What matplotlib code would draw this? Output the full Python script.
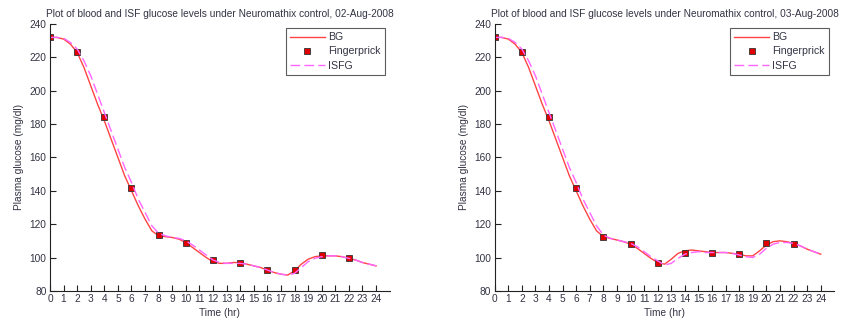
import matplotlib
matplotlib.use("Agg")
import matplotlib.pyplot as plt
import numpy as np

plt.rcParams['font.family'] = ['Liberation Sans', 'DejaVu Sans']

# half-hour time grid
t = np.arange(0, 24.5, 0.5)

# 02-Aug-2008
bg_1 = [232, 232, 231, 228, 223, 214, 203, 192, 182, 171, 160, 149, 140, 131, 123, 116,
        113, 112.5, 112, 111, 109, 106, 103, 100, 97.5, 96.5, 96.5, 97, 97, 96, 95, 94,
        92.5, 91, 90, 89.5, 92, 96, 99, 100.5, 101, 101, 101, 100.5, 99.5, 98.5, 97, 96, 95]
isfg_1 = [232, 232, 231.5, 229, 225, 218, 209, 198, 187, 176, 165, 154, 145, 135, 127, 119,
          114.5, 113, 112, 111.5, 110, 107.5, 104.5, 101.5, 98.5, 97, 96.5, 96.5, 96.5, 96, 95, 94,
          92.5, 91, 90, 89.5, 90.5, 94, 97.5, 99.5, 100.5, 101, 101, 100.5, 99.5, 98.5, 97, 96, 95]
fp_t = [0, 2, 4, 6, 8, 10, 12, 14, 16, 18, 20, 22]
fp_1 = [232, 223, 184, 141.5, 113.5, 109, 98.5, 97, 92.5, 92.5, 101.5, 99.5]

# 03-Aug-2008
bg_2 = [232, 232, 231, 228, 223, 214, 203, 192, 182, 171, 160, 149, 140, 131, 123, 116,
        112.5, 111.5, 110.5, 109.5, 108, 105.5, 102.5, 99.5, 97, 96, 99, 102.5, 104, 104.5, 104, 103.5,
        103, 103, 103, 102.5, 102, 101, 101, 104, 107.5, 109.5, 110, 109.5, 108.5, 107, 105, 103.5, 102]
isfg_2 = [232, 232, 231.5, 229, 225, 218, 209, 198, 187, 176, 165, 154, 145, 135, 127, 119,
          113.5, 111.5, 110.5, 109.5, 108.5, 106.5, 103.5, 100.5, 98, 95.5, 96.5, 99.5, 102, 103, 103.5, 103,
          103, 103, 103, 102.5, 101.5, 100.5, 100, 102, 105.5, 108, 109, 109, 108.5, 107, 105, 103.5, 102]
fp_2 = [232, 223, 184, 141.5, 112.5, 108, 97, 103, 103, 102, 108.5, 108]

dates = ['02-Aug-2008', '03-Aug-2008']
bgs = [bg_1, bg_2]
isfgs = [isfg_1, isfg_2]
fps = [fp_1, fp_2]

fig = plt.figure(figsize=(8.47, 3.25), dpi=100)
lefts = [0.059, 0.584]
txt = '#333344'

for k in range(2):
    ax = fig.add_axes([lefts[k], 0.105, 0.401, 0.821])
    ax.plot(t, bgs[k], color='#ff4444', lw=1.0, label='BG')
    ax.plot(fp_t, fps[k], ls='none', marker='s', ms=4, mfc='#e00000', mec='#333333',
            mew=0.6, label='Fingerprick')
    ax.plot(t, isfgs[k], color='#ff66ff', lw=1.0, dashes=(7, 3), label='ISFG')
    ax.set_xlim(0, 25)
    ax.set_ylim(80, 240)
    ax.set_xticks(range(0, 25))
    ax.set_yticks(range(80, 241, 20))
    ax.spines['top'].set_visible(False)
    ax.spines['right'].set_visible(False)
    for s in ('left', 'bottom'):
        ax.spines[s].set_color('#222222')
        ax.spines[s].set_linewidth(0.8)
    ax.tick_params(direction='in', length=4, width=0.8, labelsize=7.3, colors='#222222',
                   labelcolor=txt, pad=2.5)
    ax.set_xlabel('Time (hr)', fontsize=7.3, color=txt, labelpad=2.5)
    ax.set_ylabel('Plasma glucose (mg/dl)', fontsize=7.3, color=txt, labelpad=4)
    ax.set_title('Plot of blood and ISF glucose levels under Neuromathix control, ' + dates[k],
                 fontsize=7.3, color=txt, pad=5)
    leg = ax.legend(loc='upper right', bbox_to_anchor=(0.985, 0.985), fontsize=7.6, frameon=True,
                    fancybox=False, edgecolor='#333333', handlelength=3.3, borderpad=0.4,
                    labelspacing=0.4, handletextpad=0.3, borderaxespad=0)
    leg.get_frame().set_linewidth(0.8)
    for tx in leg.get_texts():
        tx.set_color(txt)

fig.savefig('out.png', dpi=100)
